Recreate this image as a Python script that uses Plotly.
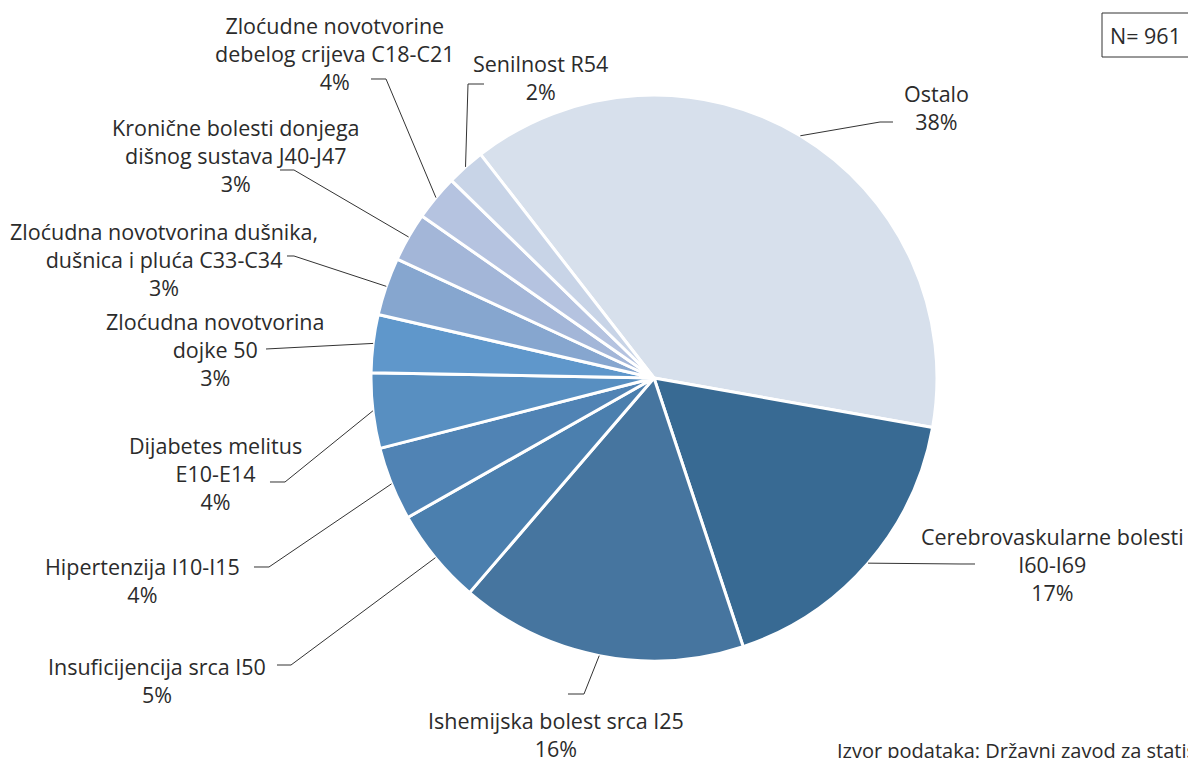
import math
import plotly.graph_objects as go

# Podaci (udjeli procijenjeni s grafa, N = 961)
kategorije = [
    "Ostalo",
    "Cerebrovaskularne bolesti I60-I69",
    "Ishemijska bolest srca I25",
    "Insuficijencija srca I50",
    "Hipertenzija I10-I15",
    "Dijabetes melitus E10-E14",
    "Zloćudna novotvorina dojke 50",
    "Zloćudna novotvorina dušnika, dušnica i pluća C33-C34",
    "Kronične bolesti donjega dišnog sustava J40-J47",
    "Zloćudne novotvorine debelog crijeva C18-C21",
    "Senilnost R54",
]
vrijednosti = [38.3, 17.1, 16.4, 5.5, 4.2, 4.3, 3.3, 3.3, 2.8, 2.6, 2.2]
postotci = ["38%", "17%", "16%", "5%", "4%", "4%", "3%", "3%", "3%", "4%", "2%"]
oznake = [
    "Ostalo",
    "Cerebrovaskularne bolesti<br>I60-I69",
    "Ishemijska bolest srca I25",
    "Insuficijencija srca I50",
    "Hipertenzija I10-I15",
    "Dijabetes melitus<br>E10-E14",
    "Zloćudna novotvorina<br>dojke 50",
    "Zloćudna novotvorina dušnika,<br>dušnica i pluća C33-C34",
    "Kronične bolesti donjega<br>dišnog sustava J40-J47",
    "Zloćudne novotvorine<br>debelog crijeva C18-C21",
    "Senilnost R54",
]
boje = ["#d7e0ec", "#386a93", "#46759f", "#4b7fae", "#5083b4", "#588fc1",
        "#5f97cb", "#86a6cf", "#a3b6d8", "#b5c3e0", "#c8d4e7"]

W, H = 1188, 758
CX, CY, R = 654, 378, 283
ROTACIJA = -37.8
FONT = "Open Sans"
VELICINA = 21.5
BOJA_TEKSTA = "#2b2b2b"

# Položaj oznaka (središte teksta) i lom linije, u pikselima
pozicije_oznaka = [
    (936, 107), (1052, 564), (556, 734), (157, 680), (142, 580), (215, 473),
    (215, 350), (164, 259), (236, 155), (335, 53), (540, 77),
]
lomovi = [
    [(880, 122), (893, 122)],
    [(960, 564), (975, 564)],
    [(584, 694), (568, 694)],
    [(291, 665), (277, 665)],
    [(269, 567), (254, 567)],
    [(285, 482), (270, 482)],
    [(266, 349)],
    [(294, 256), (287, 256)],
    [(294, 170), (280, 170)],
    [(386, 79), (371, 79)],
    [(468, 84), (484, 84)],
]


def px(x):
    return x / W


def py(y):
    return 1 - y / H


fig = go.Figure(go.Pie(
    labels=kategorije,
    values=vrijednosti,
    sort=False,
    direction="clockwise",
    rotation=ROTACIJA,
    textinfo="none",
    hoverinfo="label+percent",
    marker=dict(colors=boje, line=dict(color="white", width=3)),
    domain=dict(x=[px(CX - R), px(CX + R)], y=[py(CY + R), py(CY - R)]),
    showlegend=False,
))

# Linije vodilice: od sredine isječka na rubu do oznake
ukupno = sum(vrijednosti)
kum = 0
shapes = []
annotations = []
for i, v in enumerate(vrijednosti):
    kut = math.radians(ROTACIJA + 360 * (kum + v / 2) / ukupno)
    kum += v
    x0 = CX + R * math.sin(kut)
    y0 = CY - R * math.cos(kut)
    tocke = [(x0, y0)] + lomovi[i]
    path = "M " + " L ".join(f"{px(x):.5f},{py(y):.5f}" for x, y in tocke)
    shapes.append(dict(type="path", path=path, xref="paper", yref="paper",
                       line=dict(color="#333333", width=1)))
    lx, ly = pozicije_oznaka[i]
    annotations.append(dict(
        x=px(lx), y=py(ly), xref="paper", yref="paper",
        text=oznake[i] + "<br>" + postotci[i],
        showarrow=False, xanchor="center", yanchor="middle", align="center",
        font=dict(family=FONT, size=VELICINA, color=BOJA_TEKSTA),
    ))

# Okvir s brojem slučajeva
shapes.append(dict(type="rect", xref="paper", yref="paper",
                   x0=px(1102), x1=px(1200), y0=py(57), y1=py(13),
                   line=dict(color="#333333", width=1)))
annotations.append(dict(x=px(1145), y=py(35), xref="paper", yref="paper",
                        text="N= 961", showarrow=False,
                        xanchor="center", yanchor="middle",
                        font=dict(family=FONT, size=VELICINA, color=BOJA_TEKSTA)))

# Izvor podataka
annotations.append(dict(x=px(835), y=py(750), xref="paper", yref="paper",
                        text="Izvor podataka: Državni zavod za statistiku",
                        showarrow=False, xanchor="left", yanchor="middle",
                        font=dict(family=FONT, size=20, color=BOJA_TEKSTA)))

fig.update_layout(
    width=W, height=H,
    margin=dict(l=0, r=0, t=0, b=0),
    paper_bgcolor="white",
    plot_bgcolor="white",
    shapes=shapes,
    annotations=annotations,
)

# bez margine stranice da se graf poklopi s prozorom
fig.write_html("out.html", config={"displayModeBar": False},
               post_script="document.body.style.margin='0px';")
